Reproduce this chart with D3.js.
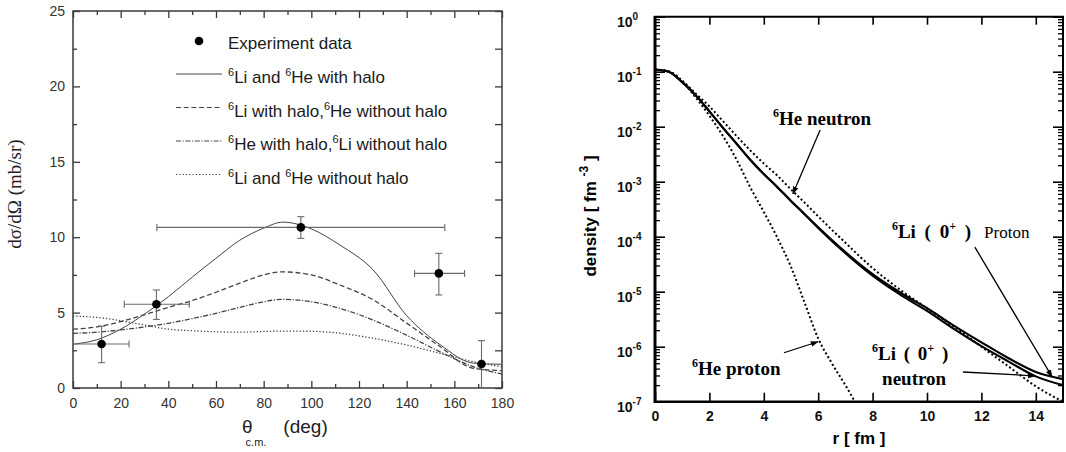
<!DOCTYPE html>
<html><head><meta charset="utf-8">
<script src="https://cdn.jsdelivr.net/npm/d3@7/dist/d3.min.js"></script>
<style>body{margin:0;background:#fff}svg{display:block}</style>
</head><body>
<svg id="c" width="1066" height="452"></svg>
<script>
// ================= LEFT PANEL DATA =================
const thetaGrid   = [0,10,20,30,40,50,60,70,80,88,100,112,126,140,154,168,180];
const bothHalo    = [2.9,3.2,3.9,4.9,6.05,7.35,8.6,9.8,10.6,11.0,10.55,9.48,7.82,4.8,2.88,1.65,1.57];
const liHaloOnly  = [3.9,4.05,4.4,4.85,5.35,5.8,6.35,6.95,7.5,7.7,7.5,6.83,5.84,4.3,2.75,1.3,1.15];
const heHaloOnly  = [3.62,3.7,3.85,4.05,4.29,4.6,4.95,5.35,5.72,5.88,5.72,5.28,4.5,3.5,2.4,1.41,0.93];
const noHalo      = [4.77,4.68,4.46,4.18,3.9,3.8,3.73,3.7,3.75,3.77,3.76,3.63,3.3,2.85,2.3,1.74,1.41];

const expTheta = [12, 35, 95.6, 153.5, 171.4];
const expSigma = [2.92, 5.55, 10.65, 7.6, 1.59];
const expThLo  = [0, 21.5, 35.2, 143.3, 171.4];
const expThHi  = [23.5, 48.8, 156, 164.3, 171.4];
const expSgLo  = [1.68, 4.55, 9.92, 6.17, 0];
const expSgHi  = [4.1, 6.5, 11.36, 8.93, 3.14];

const leftXTicks = [0,20,40,60,80,100,120,140,160,180];
const leftYTicks = [0,5,10,15,20,25];

// ================= RIGHT PANEL DATA (log10 density, fm^-3) =================
const rGrid        = [0,0.5,1,1.5,2,2.5,3,3.5,4,4.5,5,5.5,6,7,8,9,10,11,12,13,14,15];
const liProtonLog  = [-0.96,-1.0,-1.19,-1.43,-1.72,-2.02,-2.31,-2.6,-2.86,-3.1,-3.35,-3.59,-3.83,-4.28,-4.68,-5.01,-5.3,-5.62,-5.92,-6.21,-6.46,-6.59];
const liNeutronLog = [-0.96,-1.0,-1.19,-1.43,-1.72,-2.02,-2.31,-2.6,-2.86,-3.1,-3.35,-3.59,-3.84,-4.3,-4.71,-5.05,-5.35,-5.68,-5.99,-6.27,-6.54,-6.70];
const heNeutronLog = [-0.96,-0.99,-1.16,-1.4,-1.63,-1.9,-2.17,-2.43,-2.67,-2.89,-3.14,-3.38,-3.63,-4.11,-4.57,-4.96,-5.3,-5.64,-6.0,-6.36,-6.72,-7.0];
const rGridHeP     = [0,0.5,1,1.5,2,2.5,3,3.5,4,4.5,5,5.5,6,6.5,7,7.35];
const heProtonLog  = [-0.96,-1.0,-1.18,-1.47,-1.8,-2.17,-2.6,-3.1,-3.55,-4.02,-4.55,-5.2,-5.85,-6.3,-6.7,-7.0];

const rightXTicks = [0,2,4,6,8,10,12,14];
const rightYExps  = [0,-1,-2,-3,-4,-5,-6,-7];

// annotations in data coordinates [r, log10 density]
const annHeN   = {text:[4.34,-1.97], from:[6.07,-2.06], to:[5.07,-3.22]};
const annHeP   = {text:[1.36,-6.51], from:[4.74,-6.11], to:[5.99,-5.91]};
const annLiP   = {text:[8.71,-4.02], sub:[12.1,-4.02], from:[11.76,-4.19], to:[14.6,-6.55]};
const annLiN   = {text:[7.98,-6.24], sub:[8.35,-6.70], from:[11.32,-6.46], to:[13.97,-6.53]};

// ================= DRAW =================
const svg = d3.select('#c');
const SANS = "'Liberation Sans', Arial, sans-serif";
const SERIF = "'Liberation Serif', 'Times New Roman', serif";

function rich(textSel, parts, supSize, shift){
  let off = 0;
  parts.forEach(p=>{
    const ts = textSel.append('tspan').text(p.t);
    let target = 0;
    if (p.sup){ target = -shift; ts.attr('font-size', supSize); }
    if (p.sub){ target = shift; ts.attr('font-size', supSize); }
    if (p.dx) ts.attr('dx', p.dx);
    if (target !== off){ ts.attr('dy', target - off); off = target; }
  });
  return textSel;
}

// ---------- left panel ----------
const xL = d3.scaleLinear().domain([0,180]).range([73,502]);
const yL = d3.scaleLinear().domain([0,25]).range([388,11]);
const L = svg.append('g');
const axCol = '#3a3a3a';

function styleAxis(g, col, w){
  g.select('.domain').remove();
  g.selectAll('.tick line').attr('stroke', col).attr('stroke-width', w);
}
// bottom
L.append('g').attr('transform','translate(0,388)')
  .call(d3.axisBottom(xL).tickValues(leftXTicks).tickSize(-7).tickPadding(10))
  .call(g=>{styleAxis(g,axCol,1.3); g.selectAll('text').attr('font-family',SANS).attr('font-size',14).attr('fill','#333');});
L.append('g').attr('transform','translate(0,388)')
  .call(d3.axisBottom(xL).tickValues(d3.range(10,180,20)).tickSize(-4).tickFormat(''))
  .call(g=>styleAxis(g,axCol,1.3));
// top
L.append('g').attr('transform','translate(0,11)')
  .call(d3.axisTop(xL).tickValues(leftXTicks).tickSize(-7).tickFormat(''))
  .call(g=>styleAxis(g,axCol,1.3));
L.append('g').attr('transform','translate(0,11)')
  .call(d3.axisTop(xL).tickValues(d3.range(10,180,20)).tickSize(-4).tickFormat(''))
  .call(g=>styleAxis(g,axCol,1.3));
// left
L.append('g').attr('transform','translate(73,0)')
  .call(d3.axisLeft(yL).tickValues(leftYTicks).tickSize(-7).tickPadding(8))
  .call(g=>{styleAxis(g,axCol,1.3); g.selectAll('text').attr('font-family',SANS).attr('font-size',14).attr('fill','#333');});
L.append('g').attr('transform','translate(73,0)')
  .call(d3.axisLeft(yL).tickValues(d3.range(2.5,25,5)).tickSize(-4).tickFormat(''))
  .call(g=>styleAxis(g,axCol,1.3));
// right
L.append('g').attr('transform','translate(502,0)')
  .call(d3.axisRight(yL).tickValues(d3.range(0,25.01,2.5)).tickSize(-7).tickFormat(''))
  .call(g=>styleAxis(g,axCol,1.3));
// frame
L.append('rect').attr('x',xL(0)).attr('y',yL(25)).attr('width',xL(180)-xL(0)).attr('height',yL(0)-yL(25))
  .attr('fill','none').attr('stroke',axCol).attr('stroke-width',1.5);

// curves
const lineL = d3.line().x(d=>xL(d[0])).y(d=>yL(d[1])).curve(d3.curveMonotoneX);
const curveCol = '#444';
const series = [
  {v:bothHalo,  dash:null,        w:1.0},
  {v:liHaloOnly,dash:'5,2.7',     w:1.3},
  {v:heHaloOnly,dash:'5,1.6,1.2,1.6', w:1.3},
  {v:noHalo,    dash:'1.3,2',     w:1.3}
];
series.forEach(s=>{
  L.append('path').attr('d', lineL(thetaGrid.map((t,i)=>[t,s.v[i]])))
   .attr('fill','none').attr('stroke',curveCol).attr('stroke-width',s.w)
   .attr('stroke-dasharray', s.dash);
});
// error bars
const ebCol = '#6a6a6a';
expTheta.forEach((t,i)=>{
  const g = L.append('g').attr('stroke',ebCol).attr('stroke-width',1.1);
  if (expThHi[i] > expThLo[i]){
    g.append('line').attr('x1',xL(expThLo[i])).attr('x2',xL(expThHi[i])).attr('y1',yL(expSigma[i])).attr('y2',yL(expSigma[i]));
    [expThLo[i],expThHi[i]].forEach(v=>{ if (v>0) g.append('line').attr('x1',xL(v)).attr('x2',xL(v)).attr('y1',yL(expSigma[i])-3.5).attr('y2',yL(expSigma[i])+3.5); });
  }
  g.append('line').attr('x1',xL(t)).attr('x2',xL(t)).attr('y1',yL(expSgLo[i])).attr('y2',yL(expSgHi[i]));
  [expSgLo[i],expSgHi[i]].forEach(v=>{ if (v>0) g.append('line').attr('x1',xL(t)-3.5).attr('x2',xL(t)+3.5).attr('y1',yL(v)).attr('y2',yL(v)); });
  L.append('circle').attr('cx',xL(t)).attr('cy',yL(expSigma[i])).attr('r',4.3).attr('fill','#000');
});

// legend
const leg = L.append('g').attr('font-family',SANS).attr('font-size',17).attr('fill','#1a1a1a');
leg.append('circle').attr('cx',199).attr('cy',41).attr('r',4.3).attr('fill','#000');
leg.append('text').attr('x',228).attr('y',49).text('Experiment data');
const legTexts = [
  [{t:'6',sup:1},{t:'Li and '},{t:'6',sup:1},{t:'He with halo'}],
  [{t:'6',sup:1},{t:'Li with halo,'},{t:'6',sup:1},{t:'He without halo'}],
  [{t:'6',sup:1},{t:'He with halo,'},{t:'6',sup:1},{t:'Li without halo'}],
  [{t:'6',sup:1},{t:'Li and '},{t:'6',sup:1},{t:'He without halo'}]
];
const legY = [74,107.5,141,174.5];
series.forEach((s,i)=>{
  leg.append('line').attr('x1',176).attr('x2',222).attr('y1',legY[i]).attr('y2',legY[i])
    .attr('stroke',curveCol).attr('stroke-width',1.0).attr('stroke-dasharray',s.dash);
  rich(leg.append('text').attr('x',228).attr('y',legY[i]+9), legTexts[i], 11, 7);
});

// axis labels
rich(L.append('text').attr('x',242).attr('y',433).attr('font-family',SANS).attr('font-size',19).attr('fill','#222'),
  [{t:'θ'},{t:'c.m.',sub:1,dx:-7},{t:'(deg)',dx:17}], 11, 13);
L.append('text').attr('transform','translate(21,194) rotate(-90)').attr('text-anchor','middle')
  .attr('font-family',SERIF).attr('font-size',19).attr('fill','#222').text('dσ/dΩ (mb/sr)');

// ---------- right panel ----------
const xR = d3.scaleLinear().domain([0,15]).range([655,1063]);
const yR = d3.scaleLog().domain([1e-7,1]).range([401.7,16.7]);
const R = svg.append('g');
const minorVals = [];
rightYExps.forEach(e=>{ if (e<0) for (let m=2;m<=9;m++) minorVals.push(m*Math.pow(10,e)); });
const majVals = rightYExps.map(e=>Math.pow(10,e));

R.append('g').attr('transform','translate(655,0)')
  .call(d3.axisLeft(yR).tickValues(majVals).tickSize(-10).tickFormat(''))
  .call(g=>styleAxis(g,'#000',1.6));
R.append('g').attr('transform','translate(655,0)')
  .call(d3.axisLeft(yR).tickValues(minorVals).tickSize(-5).tickFormat(''))
  .call(g=>styleAxis(g,'#000',1.3));
R.append('g').attr('transform','translate(1063,0)')
  .call(d3.axisRight(yR).tickValues(majVals).tickSize(-10).tickFormat(''))
  .call(g=>styleAxis(g,'#000',1.6));
R.append('g').attr('transform','translate(1063,0)')
  .call(d3.axisRight(yR).tickValues(minorVals).tickSize(-5).tickFormat(''))
  .call(g=>styleAxis(g,'#000',1.3));
R.append('g').attr('transform','translate(0,401.7)')
  .call(d3.axisBottom(xR).tickValues(rightXTicks).tickSize(-9).tickPadding(9))
  .call(g=>{styleAxis(g,'#000',1.6); g.selectAll('text').attr('font-family',SANS).attr('font-weight','bold').attr('font-size',14).attr('fill','#111');});
R.append('g').attr('transform','translate(0,16.7)')
  .call(d3.axisTop(xR).tickValues(rightXTicks.slice(1)).tickSize(-8).tickFormat(''))
  .call(g=>styleAxis(g,'#000',1.6));
// y tick labels 10^n
rightYExps.forEach(e=>{
  rich(R.append('text').attr('x',617).attr('y',yR(Math.pow(10,e))+10.5)
      .attr('font-family',SANS).attr('font-weight','bold').attr('font-size',14).attr('fill','#111'),
    [{t:'10'},{t:String(e),sup:1}], 10, 7);
});
// frame
R.append('line').attr('x1',655).attr('x2',655).attr('y1',16).attr('y2',403).attr('stroke','#000').attr('stroke-width',3);
R.append('line').attr('x1',654).attr('x2',1064).attr('y1',401.7).attr('y2',401.7).attr('stroke','#000').attr('stroke-width',2.6);
R.append('line').attr('x1',654).attr('x2',1064).attr('y1',16.7).attr('y2',16.7).attr('stroke','#000').attr('stroke-width',2);
R.append('line').attr('x1',1063).attr('x2',1063).attr('y1',16).attr('y2',403).attr('stroke','#000').attr('stroke-width',2);

// curves
const lineR = d3.line().x(d=>xR(d[0])).y(d=>yR(Math.pow(10,d[1]))).curve(d3.curveMonotoneX);
const clip = svg.append('defs').append('clipPath').attr('id','clipR');
clip.append('rect').attr('x',655).attr('y',16.7).attr('width',408).attr('height',385);
const C = R.append('g').attr('clip-path','url(#clipR)');
C.append('path').attr('d',lineR(rGrid.map((r,i)=>[r,liProtonLog[i]]))).attr('fill','none').attr('stroke','#000').attr('stroke-width',2.1);
C.append('path').attr('d',lineR(rGrid.map((r,i)=>[r,liNeutronLog[i]]))).attr('fill','none').attr('stroke','#000').attr('stroke-width',2.1);
C.append('path').attr('d',lineR(rGrid.map((r,i)=>[r,heNeutronLog[i]]))).attr('fill','none').attr('stroke','#000').attr('stroke-width',2).attr('stroke-dasharray','2,2.4');
C.append('path').attr('d',lineR(rGridHeP.map((r,i)=>[r,heProtonLog[i]]))).attr('fill','none').attr('stroke','#000').attr('stroke-width',2).attr('stroke-dasharray','2,2.4');

// arrows
const defs = svg.select('defs');
defs.append('marker').attr('id','arr').attr('viewBox','0 0 10 10').attr('refX',9).attr('refY',5)
  .attr('markerWidth',8).attr('markerHeight',8).attr('markerUnits','userSpaceOnUse').attr('orient','auto')
  .append('path').attr('d','M0,1.5 L10,5 L0,8.5 Z').attr('fill','#000');
const P = d => [xR(d[0]), yR(Math.pow(10,d[1]))];
[annHeN, annHeP, annLiP, annLiN].forEach(a=>{
  const f = P(a.from), t = P(a.to);
  R.append('line').attr('x1',f[0]).attr('y1',f[1]).attr('x2',t[0]).attr('y2',t[1])
    .attr('stroke','#000').attr('stroke-width',1.3).attr('marker-end','url(#arr)');
});
function annText(pos, parts, size, weight, ws){
  const p = P(pos);
  return rich(R.append('text').attr('x',p[0]).attr('y',p[1]).attr('font-family',SERIF)
    .attr('font-size',size).attr('font-weight',weight).attr('fill','#000')
    .attr('word-spacing', ws || 0), parts, 12, 8);
}
annText(annHeN.text, [{t:'6',sup:1},{t:'He neutron'}], 19, 'bold');
annText(annHeP.text, [{t:'6',sup:1},{t:'He proton'}], 19, 'bold');
annText(annLiP.text, [{t:'6',sup:1},{t:'Li ( 0'},{t:'+',sup:1},{t:' )'}], 19, 'bold', 4);
annText(annLiP.sub, [{t:'Proton'}], 17, 'normal');
annText(annLiN.text, [{t:'6',sup:1},{t:'Li ( 0'},{t:'+',sup:1},{t:' )'}], 19, 'bold', 3);
annText(annLiN.sub, [{t:'neutron'}], 19, 'bold');

// axis labels
R.append('text').attr('x',859).attr('y',444).attr('text-anchor','middle').attr('font-family',SANS)
  .attr('font-weight','bold').attr('font-size',17).text('r [ fm ]');
rich(R.append('text').attr('transform','translate(596,216) rotate(-90)').attr('text-anchor','middle')
  .attr('font-family',SANS).attr('font-weight','bold').attr('font-size',17).attr('fill','#000'),
  [{t:'density  [ fm '},{t:'-3',sup:1},{t:' ]'}], 12, 8);
</script>
</body></html>
